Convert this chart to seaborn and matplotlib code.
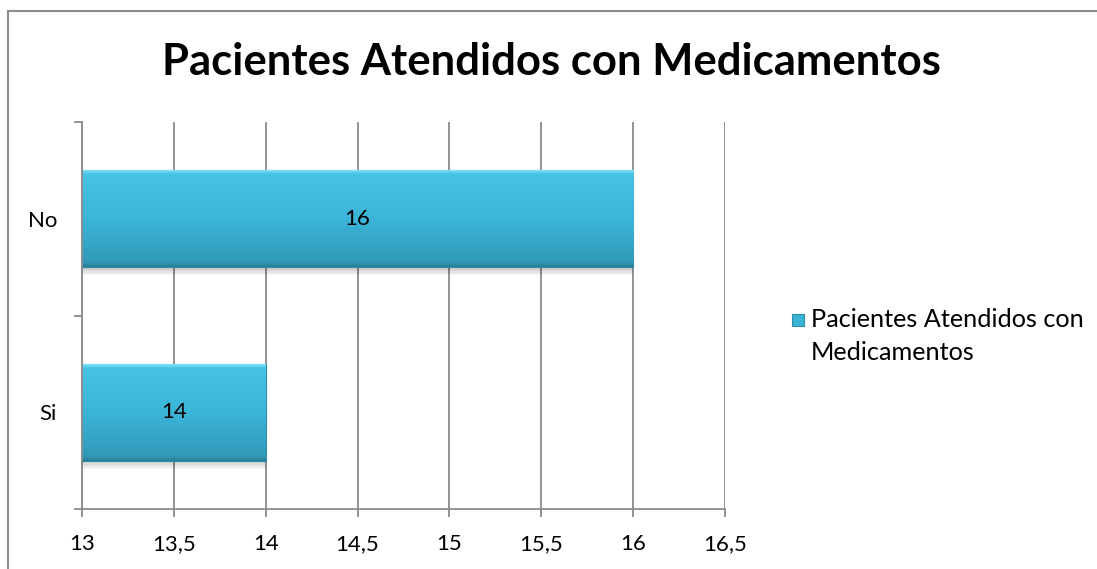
import textwrap
import numpy as np
import pandas as pd
import matplotlib
matplotlib.use("Agg")
import matplotlib.pyplot as plt
import matplotlib.patheffects as pe
from matplotlib.colors import LinearSegmentedColormap
from matplotlib.patches import Rectangle
import seaborn as sns

# Chart data
categories = ["No", "Si"]
values = [16, 14]
series_name = "Pacientes Atendidos con Medicamentos"
x_ticks = [13, 13.5, 14, 14.5, 15, 15.5, 16, 16.5]
x_tick_labels = ["13", "13,5", "14", "14,5", "15", "15,5", "16", "16,5"]

df = pd.DataFrame({"Respuesta": categories, "Pacientes": values})

sns.set_theme(style="white")
plt.rcParams["font.family"] = ["Lato", "DejaVu Sans"]

W, H = 1097, 569
fig = plt.figure(figsize=(W / 100, H / 100), dpi=100)
ax = fig.add_axes([82 / W, 1 - 509 / H, (725 - 82) / W, (509 - 122) / H])

grid_color = "#8a8a8a"
bar_color = "#3ab4d6"
fs = 16

sns.barplot(data=df, x="Pacientes", y="Respuesta", order=categories,
            color=bar_color, width=0.5, ax=ax, saturation=1,
            edgecolor="#2d8ca6", linewidth=0.8)

ax.set_xlim(x_ticks[0], x_ticks[-1])
ax.set_ylim(len(categories) - 0.5, -0.5)

# Vertical gridlines
ax.set_xticks(x_ticks)
ax.set_xticklabels(x_tick_labels)
ax.grid(axis="x", color=grid_color, linewidth=1.3, zorder=3)
ax.grid(axis="y", visible=False)
ax.set_axisbelow(True)

# Gradient fill and soft shadow on each bar
grad = LinearSegmentedColormap.from_list(
    "bar_grad",
    [(0.0, "#7ae2f6"), (0.04, "#46c2e2"), (0.5, "#3bb5d8"),
     (0.95, "#3299b8"), (1.0, "#2a7f98")])
shadow = [pe.SimplePatchShadow(offset=(0, -k), shadow_rgbFace="#000000", alpha=0.035)
          for k in range(1, 7)]
x0_lim = ax.get_xlim()[0]
for patch in ax.patches:
    bx0, by0 = patch.get_x(), patch.get_y()
    bw, bh = patch.get_width(), patch.get_height()
    left = max(bx0, x0_lim)
    img = ax.imshow(np.linspace(0, 1, 200).reshape(-1, 1), cmap=grad,
                    aspect="auto", extent=[left, bx0 + bw, by0 + bh, by0],
                    origin="upper", zorder=patch.get_zorder() + 0.1,
                    interpolation="bilinear")
    img.set_clip_path(patch)
    patch.set_path_effects(shadow + [pe.Normal()])
ax.set_xlim(x_ticks[0], x_ticks[-1])
ax.set_ylim(len(categories) - 0.5, -0.5)

# Value labels centred on the visible part of each bar
for i, v in enumerate(values):
    ax.text((x0_lim + v) / 2, i, f"{v}", ha="center", va="center",
            fontsize=fs, color="#000000", zorder=10)

# Spines and ticks
for s in ["top", "right"]:
    ax.spines[s].set_visible(False)
for s in ["left", "bottom"]:
    ax.spines[s].set_color(grid_color)
    ax.spines[s].set_linewidth(1.3)

ax.set_xlabel("")
ax.set_ylabel("")
ax.tick_params(axis="x", which="major", direction="out", length=6, width=1.3,
               color=grid_color, labelsize=fs, pad=12, labelcolor="#000000", bottom=True)
ax.set_yticks(range(len(categories)))
ax.set_yticklabels(categories)
ax.set_yticks(np.arange(-0.5, len(categories), 1.0), minor=True)
ax.tick_params(axis="y", which="major", length=0, labelsize=fs, pad=18,
               labelcolor="#000000")
ax.tick_params(axis="y", which="minor", direction="out", length=6, width=1.3,
               color=grid_color, left=True)

# Title
fig.text(551 / W, 1 - 62 / H, series_name, ha="center", va="center",
         fontsize=31.4, fontweight="bold", color="#000000")

# Legend: colour key plus wrapped series name
fig.add_artist(Rectangle((792 / W, 1 - 326 / H), 12 / W, 12 / H,
                         transform=fig.transFigure, facecolor=bar_color,
                         edgecolor="#2d8ca6", linewidth=0.8))
fig.text(811 / W, 1 - 336 / H, textwrap.fill(series_name, 23), ha="left",
         va="center", fontsize=18.2, linespacing=1.5, color="#000000")

# Chart area border
fig.add_artist(Rectangle((8 / W, -0.1), 2, 1.1 - 11 / H, transform=fig.transFigure,
                         fill=False, edgecolor="#8c8c8c", linewidth=1.5))

fig.savefig("out.png", dpi=100)
